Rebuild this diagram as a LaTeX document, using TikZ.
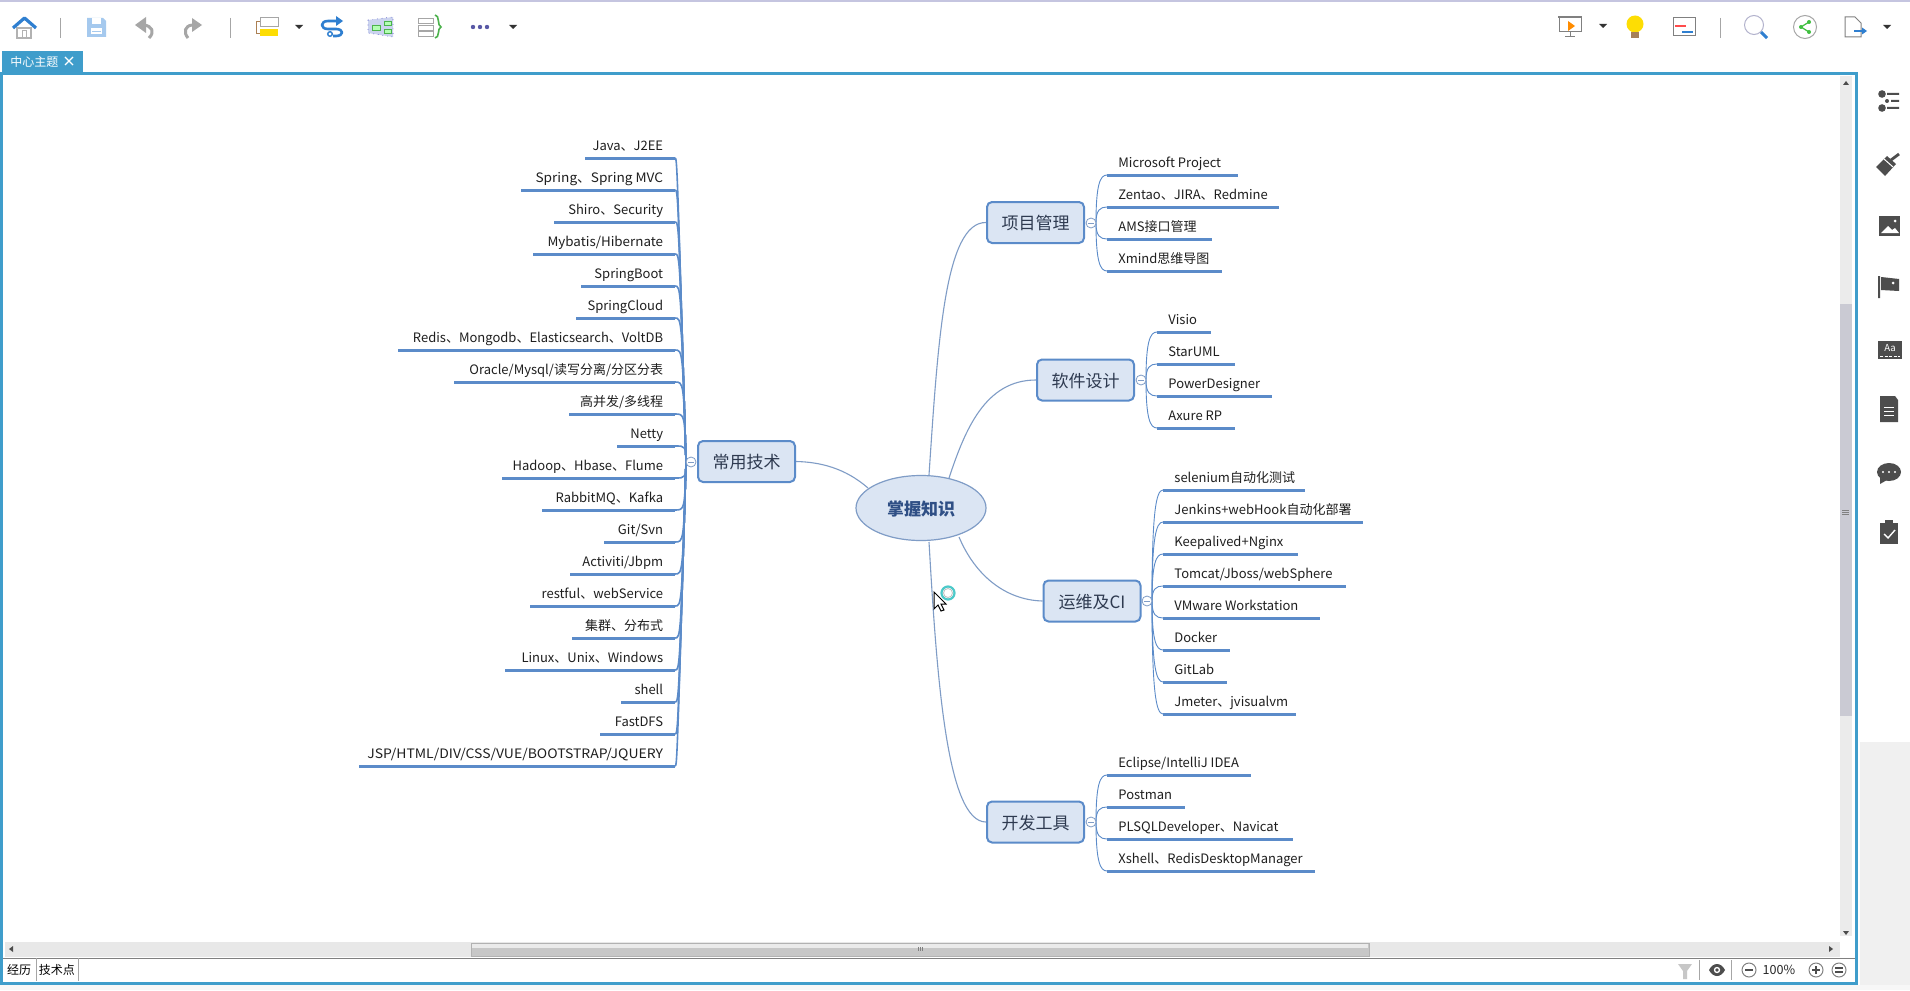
\documentclass[tikz,border=0pt]{standalone}
\usepackage{fontspec}
\setmainfont{Noto Sans CJK SC}
\usetikzlibrary{shapes.geometric,calc}
\definecolor{lineb}{HTML}{5B8BC9}
\definecolor{thinb}{HTML}{7F9CC6}
\definecolor{boxfill}{HTML}{DBE5F3}
\definecolor{framec}{HTML}{3F9DCB}
\definecolor{icong}{HTML}{4D4D4D}
\definecolor{greyi}{HTML}{A6A6A6}
\definecolor{bluei}{HTML}{2F7FD0}
\definecolor{topictext}{HTML}{2E3A50}
\definecolor{roottext}{HTML}{2F4F85}
\definecolor{savei}{HTML}{A5C9EE}
\tikzset{
 topic/.style={draw=lineb,line width=1pt,fill=boxfill,rounded corners=2.5pt,minimum width=48.5pt,minimum height=20.5pt,inner sep=0pt,text=topictext,font=\fontsize{8.5pt}{10pt}\selectfont},
 rootnode/.style={ellipse,draw=thinb,line width=.6pt,fill=boxfill,minimum width=65pt,minimum height=32.5pt,inner sep=0pt,text=roottext,font=\fontsize{8.5pt}{10pt}\selectfont\bfseries},
 itemtext/.style={inner sep=0pt,text=black!88,font=\fontsize{6.5pt}{8pt}\selectfont},
 under/.style={draw=lineb,line width=1.5pt},
 branch/.style={draw=lineb,line width=.45pt},
 branchL/.style={draw=lineb,line width=.8pt},
 mainb/.style={draw=thinb,line width=.55pt},
 hubc/.style={circle,draw=thinb,fill=white,line width=.4pt,minimum size=5pt,inner sep=0pt},
 sep/.style={draw=gray!70,line width=.5pt},
 tri/.style={fill=black!80},
 sideicon/.style={fill=icong,draw=none},
 chrome/.style={inner sep=0pt,font=\fontsize{6pt}{7pt}\selectfont},
}
\newcommand{\ttxt}[1]{\raisebox{-.5pt}[\height][\depth]{#1}}
\newcommand{\ritem}[7]{% name,hub,start x,text x,y,end x,text
 \coordinate (#1s) at (#3,#5); \coordinate (#1e) at (#6,#5);
 \node[itemtext,anchor=base west] (#1) at (#4,#5-8) {#7};
 \draw[under] (#1s) -- (#1e);
 \draw[branch] (#2) .. controls ($(#2)!.8!(#2|-#1s)$) and ($(#1s)+(-7,0)$) .. (#1s);
}
\newcommand{\litem}[4]{% name,y,end x,text
 \coordinate (#1s) at (675,#2); \coordinate (#1e) at (#3,#2);
 \coordinate (#1p) at ({686-9*abs(#2-462)/304},#2);
 \node[itemtext,anchor=base east] (#1) at (663.5,#2-8) {#4};
 \draw[under] (#1s) -- (#1e);
 \draw[branchL] (hubL) .. controls (#1p) and (#1p) .. (#1s);
}
\newcommand{\ddtri}[2]{\fill[tri] (#1-4,#2-2) -- (#1+4,#2-2) -- (#1,#2+2) -- cycle;}
\begin{document}
\begin{tikzpicture}[x=.5pt,y=-.5pt]
\useasboundingbox (0,0) rectangle (1910,990);
% window background
\fill[white] (0,0) rectangle (1910,990);
\fill[black!6] (1860,742) rectangle (1910,990);
\fill[black!3] (0,985) rectangle (1910,990);
\fill[blue!30!gray!35] (0,0) rectangle (1910,2.5);
% canvas chrome
\fill[framec] (2,51) rectangle (83,74);
\node[chrome,text=white,anchor=west] (tabtext) at (10,62) {中心主题};
\draw[white,line width=.7pt] (65,57) -- (73,65) (73,57) -- (65,65);
\draw[framec,line width=1.5pt] (1.5,73.5) rectangle (1856,983);
% scrollbars
\fill[black!8] (1840,76) rectangle (1852,936);
\fill[blue!10!gray!38] (1840,304) rectangle (1852,716);
\draw[gray,line width=.3pt] (1842,510) -- (1849,510) (1842,512) -- (1849,512) (1842,514) -- (1849,514);
\fill[black!70] (1846,81) -- (1843,85) -- (1849,85) -- cycle;
\fill[black!70] (1846,935) -- (1843,931) -- (1849,931) -- cycle;
\fill[black!9] (5,942) rectangle (1840,957);
\fill[black!22,draw=black!30,line width=.3pt] (471,943) rectangle (1369,956);
\fill[black!8] (472,944) rectangle (1368,948);
\draw[gray,line width=.3pt] (918,947) -- (918,951) (920,947) -- (920,951) (922,947) -- (922,951);
\fill[black!70] (9,949) -- (13,946) -- (13,952) -- cycle;
\fill[black!70] (1833,949) -- (1829,946) -- (1829,952) -- cycle;
\draw[gray,line width=.5pt] (3,958.5) -- (1855,958.5);
% bottom tabs
\draw[gray!70,line width=.4pt] (36,958) -- (36,981) (78,958) -- (78,981);
\node[chrome,text=black,anchor=center] (tabA) at (19,970) {经历};
\node[chrome,text=black,anchor=center] (tabB) at (57,970) {技术点};
% status bar
\draw[sep] (1699,960) -- (1699,980) (1731,960) -- (1731,980);
\fill[black!22] (1678,964) -- (1692,964) -- (1687,971) -- (1687,979) -- (1683,979) -- (1683,971) -- cycle;
\fill[icong] (1709,970) .. controls (1713,962) and (1721,962) .. (1725,970) .. controls (1721,978) and (1713,978) .. (1709,970) -- cycle;
\fill[white] (1717,970) circle[radius=3.2]; \fill[icong] (1717,970) circle[radius=1.8];
\draw[gray,line width=.5pt] (1749,970) circle[radius=7]; \draw[icong,line width=.7pt] (1745,970) -- (1753,970);
\node[chrome,text=black!85,font=\fontsize{6.3pt}{7pt}\selectfont] (zoomlabel) at (1779,970) {100\%};
\draw[gray,line width=.5pt] (1816,970) circle[radius=7]; \draw[icong,line width=.7pt] (1812,970) -- (1820,970) (1816,966) -- (1816,974);
\draw[gray,line width=.5pt] (1839,970) circle[radius=7]; \draw[icong,line width=.7pt] (1835,968) -- (1843,968) (1835,972) -- (1843,972);
% toolbar left
\draw[gray!60,line width=.6pt,fill=white] (17,28) rectangle (31,38);
\draw[gray!60,line width=.4pt] (22,30) rectangle (26,38);
\draw[bluei,line width=1.6pt,line join=round] (13,28) -- (24.5,18) -- (36,28);
\draw[sep] (60,18) -- (60,38) (230,18) -- (230,38);
\fill[savei] (87,18) -- (103,18) -- (106,21) -- (106,37) -- (87,37) -- cycle;
\fill[white] (92,18) rectangle (101,24); \fill[white] (91,28) rectangle (102,34);
\draw[savei,line width=.4pt] (92,31) -- (101,31);
\draw[greyi,line width=1.5pt] (144,25) .. controls (152,26) and (155,32) .. (149,38);
\fill[greyi] (135,25) -- (146,17) -- (146,33) -- cycle;
\draw[greyi,line width=1.5pt] (192,25) .. controls (185,26) and (183,32) .. (188,38);
\fill[greyi] (202,25) -- (192,18) -- (192,32) -- cycle;
\draw[gray!70,line width=.4pt] (260,17) rectangle (278,26);
\fill[yellow!80!orange] (260,29) rectangle (278,36);
\draw[brown!70!gray,line width=.4pt] (260,21) -- (256,21) -- (256,33) -- (260,33);
\ddtri{299}{27}
\draw[bluei,line width=1.3pt,line join=round] (338,21) -- (328,21) .. controls (320,21) and (320,29) .. (328,29) -- (336,29) .. controls (344,29) and (344,36) .. (336,36) -- (333,36);
\fill[bluei] (336,16) -- (343,21) -- (336,26) -- cycle;
\fill[white,draw=bluei,line width=.7pt] (330,34) circle[radius=2.3];
\fill[cyan!40!blue!20,draw=blue!50!gray,dotted,line width=.3pt] (368,20) -- (393,17) -- (393,37) -- (368,33) -- cycle;
\draw[green!40!gray,line width=.4pt,fill=white!70!green] (372,25) rectangle (380,30) (384,21) rectangle (391,25) (384,29) rectangle (391,33);
\draw[gray!70,line width=.4pt] (418,18) rectangle (433,23) (418,25) rectangle (433,30) (418,31) rectangle (433,36);
\draw[green!40!gray,line width=.8pt] (435,15) .. controls (440,15) and (437,26) .. (441,27) .. controls (437,28) and (440,38) .. (435,38);
\fill[blue!30!gray] (473,27) circle[radius=2.2] (480,27) circle[radius=2.2] (487,27) circle[radius=2.2];
\ddtri{513}{27}
% toolbar right
\draw[gray,line width=.5pt] (1559,18) rectangle (1581,32); \fill[gray] (1558,16) rectangle (1582,18);
\draw[gray,line width=.5pt] (1570,32) -- (1570,37) (1565,37) -- (1575,37);
\fill[orange!90!yellow] (1568,21) -- (1575,26) -- (1568,31) -- cycle;
\ddtri{1603}{26}
\fill[yellow!80!orange] (1635,24) circle[radius=8.5];
\fill[brown!60!gray] (1631,32) rectangle (1639,38);
\draw[gray,line width=.5pt] (1673,18) rectangle (1695,36);
\draw[red!70,line width=.7pt] (1675,26) -- (1686,26); \draw[bluei,line width=.7pt] (1682,32) -- (1693,32);
\draw[sep] (1720,18) -- (1720,38);
\draw[blue!20!gray!50,line width=.5pt] (1754,25) circle[radius=9.5];
\draw[bluei,line width=1.5pt] (1761,32) -- (1767,38);
\draw[gray!70,line width=.5pt] (1805,27) circle[radius=11.5];
\draw[green!50!gray,line width=.6pt] (1801,27) -- (1809,22) (1801,27) -- (1809,32);
\fill[green!50!gray] (1801,27) circle[radius=2] (1809,22) circle[radius=2] (1809,32) circle[radius=2];
\draw[gray,line width=.5pt] (1845,17) -- (1855,17) -- (1861,23) -- (1861,37) -- (1845,37) -- cycle;
\draw[bluei,line width=.9pt] (1854,31) -- (1864,31); \fill[bluei] (1862,27.5) -- (1867,31) -- (1862,34.5) -- cycle;
\ddtri{1887}{27}
% side icons
\fill[sideicon] (1882,94) circle[radius=3.8] (1882,108) circle[radius=3.8] (1887,101) circle[radius=2];
\fill[sideicon] (1887,93) rectangle (1899,95) (1891,100) rectangle (1899,102) (1887,107) rectangle (1899,109);
\fill[sideicon] (1876,167) -- (1887,156) -- (1896,164) -- (1885,176) -- cycle;
\draw[white,line width=.5pt] (1884,159) -- (1893,167);
\draw[icong,line width=1.4pt] (1891,160) -- (1899,154);
\fill[sideicon] (1879,216) rectangle (1900,236);
\fill[white] (1881,233) -- (1888,226) -- (1892,230) -- (1895,228) -- (1899,233) -- cycle; \fill[white] (1895,221) circle[radius=1.5];
\fill[sideicon] (1878,276) rectangle (1880,298) (1881,277) -- (1899,279) -- (1899,291) -- (1881,290) -- cycle;
\fill[white] (1893,283) circle[radius=1.5];
\fill[sideicon] (1878,341) rectangle (1902,359);
\node[chrome,text=white,font=\fontsize{4.8pt}{5pt}\selectfont] (aalabel) at (1890,348) {Aa};
\draw[white,line width=.5pt,dash pattern=on 1.5pt off .8pt] (1880,356) -- (1900,356);
\fill[sideicon] (1880,396) -- (1895,396) -- (1898,400) -- (1898,422) -- (1880,422) -- cycle;
\draw[white,line width=.4pt] (1884,407) -- (1894,407) (1884,411) -- (1894,411) (1884,415) -- (1894,415);
\fill[sideicon] (1889,472) ellipse[x radius=12,y radius=9]; \fill[sideicon] (1880,478) -- (1880,484) -- (1887,480) -- cycle;
\fill[white] (1883,472) circle[radius=1.2] (1889,472) circle[radius=1.2] (1895,472) circle[radius=1.2];
\fill[sideicon] (1880,523) rectangle (1898,544); \fill[sideicon] (1885,520) rectangle (1893,525);
\draw[white,line width=.7pt] (1884,534) -- (1888,538) -- (1895,530);
% the map
\node[rootnode] (root) at (921,508) {\ttxt{掌握知识}};
\node[topic] (tL) at (746.5,461.5) {\ttxt{常用技术}};
\node[topic] (t1) at (1035.5,222.5) {\ttxt{项目管理}};
\node[topic] (t2) at (1085.5,380) {\ttxt{软件设计}};
\node[topic] (t3) at (1092,601) {\ttxt{运维及CI}};
\node[topic] (t4) at (1035.5,822) {\ttxt{开发工具}};
\coordinate (r0) at (868,488); \coordinate (r1) at (929,475); \coordinate (r2) at (949,478); \coordinate (r3) at (959,537); \coordinate (r4) at (929,542);
\draw[mainb] (r0) .. controls (845,468) and (820,462) .. (tL.east);
\draw[mainb] (r1) .. controls (938,340) and (945,222) .. (t1.west);
\draw[mainb] (r2) .. controls (965,430) and (985,380) .. (t2.west);
\draw[mainb] (r3) .. controls (975,575) and (1005,600) .. (t3.west);
\draw[mainb] (r4) .. controls (937,680) and (947,822) .. (t4.west);
\coordinate (hubL) at (686,462);
\coordinate (hub1) at (1096,223);
\coordinate (hub2) at (1146,380);
\coordinate (hub3) at (1152,601);
\coordinate (hub4) at (1096,822);
% left items
\litem{a0}{158}{585}{Java、J2EE}
\litem{a1}{190}{521}{\scalebox{1.05}[1]{Spring、Spring MVC}}
\litem{a2}{222}{554}{Shiro、Security}
\litem{a3}{254}{533}{\scalebox{1.03}[1]{Mybatis/Hibernate}}
\litem{a4}{286}{581}{SpringBoot}
\litem{a5}{318}{576}{SpringCloud}
\litem{a6}{350}{398}{Redis、Mongodb、Elasticsearch、VoltDB}
\litem{a7}{382}{454}{Oracle/Mysql/读写分离/分区分表}
\litem{a8}{414}{569}{高并发/多线程}
\litem{a9}{446}{617}{Netty}
\litem{a10}{478}{502}{Hadoop、Hbase、Flume}
\litem{a11}{510}{542}{RabbitMQ、Kafka}
\litem{a12}{542}{604}{Git/Svn}
\litem{a13}{574}{570}{Activiti/Jbpm}
\litem{a14}{606}{530}{restful、webService}
\litem{a15}{638}{572}{集群、分布式}
\litem{a16}{670}{505}{Linux、Unix、Windows}
\litem{a17}{702}{621}{shell}
\litem{a18}{734}{600}{FastDFS}
\litem{a19}{766}{359}{\scalebox{1.075}[1]{JSP/HTML/DIV/CSS/VUE/BOOTSTRAP/JQUERY}}
% right items
\ritem{b0}{hub1}{1107}{1118}{175}{1238}{Microsoft Project}
\ritem{b1}{hub1}{1107}{1118}{207}{1279}{Zentao、JIRA、Redmine}
\ritem{b2}{hub1}{1107}{1118}{239}{1212}{AMS接口管理}
\ritem{b3}{hub1}{1107}{1118}{271}{1222}{Xmind思维导图}
\ritem{c0}{hub2}{1157}{1168}{332}{1211}{Visio}
\ritem{c1}{hub2}{1157}{1168}{364}{1235}{StarUML}
\ritem{c2}{hub2}{1157}{1168}{396}{1272}{PowerDesigner}
\ritem{c3}{hub2}{1157}{1168}{428}{1235}{Axure RP}
\ritem{d0}{hub3}{1163}{1174}{490}{1305}{selenium自动化测试}
\ritem{d1}{hub3}{1163}{1174}{522}{1363}{Jenkins+webHook自动化部署}
\ritem{d2}{hub3}{1163}{1174}{554}{1298}{Keepalived+Nginx}
\ritem{d3}{hub3}{1163}{1174}{586}{1346}{Tomcat/Jboss/webSphere}
\ritem{d4}{hub3}{1163}{1174}{618}{1320}{VMware Workstation}
\ritem{d5}{hub3}{1163}{1174}{650}{1230}{Docker}
\ritem{d6}{hub3}{1163}{1174}{682}{1227}{GitLab}
\ritem{d7}{hub3}{1163}{1174}{714}{1296}{Jmeter、jvisualvm}
\ritem{e0}{hub4}{1107}{1118}{775}{1251}{Eclipse/IntelliJ IDEA}
\ritem{e1}{hub4}{1107}{1118}{807}{1185}{Postman}
\ritem{e2}{hub4}{1107}{1118}{839}{1293}{PLSQLDeveloper、Navicat}
\ritem{e3}{hub4}{1107}{1118}{871}{1315}{Xshell、RedisDesktopManager}
% collapse handles
\node[hubc] (cL) at (691,462) {};
\node[hubc] (c1) at (1091,223) {};
\node[hubc] (c2) at (1141,380) {};
\node[hubc] (c3) at (1147,601) {};
\node[hubc] (c4) at (1091,822) {};
\draw[thinb,line width=.4pt] (688,462) -- (694,462) (1088,223) -- (1094,223) (1138,380) -- (1144,380) (1144,601) -- (1150,601) (1088,822) -- (1094,822);
% busy cursor
\draw[teal!60!cyan!70,line width=1.1pt] (948,593) circle[radius=6.5];
\draw[gray!50,line width=.4pt] (948,593) circle[radius=4.5];
\fill[white,draw=black,line width=.5pt] (934,592) -- (934,609) -- (938,605) -- (941,611) -- (944,610) -- (941,604) -- (946,604) -- cycle;
\end{tikzpicture}
\end{document}
